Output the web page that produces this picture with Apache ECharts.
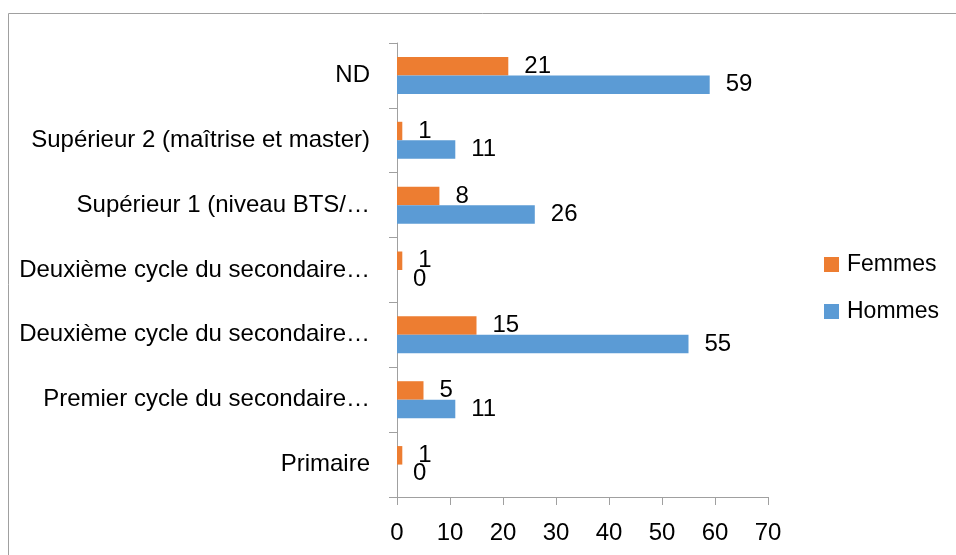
<!DOCTYPE html>
<html>
<head>
<meta charset="utf-8">
<script src="https://cdn.jsdelivr.net/npm/echarts@6/dist/echarts.min.js"></script>
<style>
  html, body { margin: 0; padding: 0; background: #fff; }
  #chart { width: 956px; height: 555px; }
</style>
</head>
<body>
<div id="chart"></div>
<script>
const categories = [
  'Primaire',
  'Premier cycle du secondaire…',
  'Deuxième cycle du secondaire…',
  'Deuxième cycle du secondaire…',
  'Supérieur 1 (niveau BTS/…',
  'Supérieur 2 (maîtrise et master)',
  'ND'
]
const femmes = [1, 5, 15, 1, 8, 1, 21]
const hommes = [0, 11, 55, 0, 26, 11, 59]
const xTicks = { min: 0, max: 70, interval: 10 }

const font = 'Liberation Sans, Arial, sans-serif'
const axisGray = '#a0a0a0'

const chart = echarts.init(document.getElementById('chart'))

function barLabel () {
  return {
    show: true,
    position: 'right',
    distance: 16,
    fontFamily: font,
    fontSize: 24,
    color: '#000'
  }
}

chart.setOption({
  animation: false,
  graphic: [{
    type: 'rect',
    shape: { x: 8.5, y: 13.5, width: 1000, height: 600 },
    style: { fill: 'none', stroke: '#a0a0a0', lineWidth: 1 }
  }],
  legend: {
    orient: 'vertical',
    left: 824,
    top: 253,
    padding: 0,
    itemWidth: 15,
    itemHeight: 15,
    itemGap: 24,
    icon: 'rect',
    data: ['Femmes', 'Hommes'],
    textStyle: { fontFamily: font, fontSize: 23, color: '#000', padding: [0, 0, 0, 3] }
  },
  grid: { left: 397, right: 188, top: 43, bottom: 58, containLabel: false },
  xAxis: {
    type: 'value',
    min: xTicks.min,
    max: xTicks.max,
    interval: xTicks.interval,
    splitLine: { show: false },
    axisLine: { show: true, lineStyle: { color: axisGray } },
    axisTick: { show: true, length: 8, lineStyle: { color: axisGray } },
    axisLabel: { margin: 24, fontFamily: font, fontSize: 24, color: '#000' }
  },
  yAxis: {
    type: 'category',
    data: categories,
    axisLine: { lineStyle: { color: axisGray } },
    axisTick: { show: true, length: 8, lineStyle: { color: axisGray } },
    axisLabel: { margin: 27, fontFamily: font, fontSize: 24, color: '#000' }
  },
  series: [
    {
      name: 'Femmes',
      type: 'bar',
      data: femmes,
      barWidth: 18.5,
      barGap: '0%',
      itemStyle: { color: '#ed7d31' },
      label: barLabel()
    },
    {
      name: 'Hommes',
      type: 'bar',
      data: hommes,
      barWidth: 18.5,
      barGap: '0%',
      itemStyle: { color: '#5b9bd5' },
      label: barLabel()
    }
  ]
})
</script>
</body>
</html>
